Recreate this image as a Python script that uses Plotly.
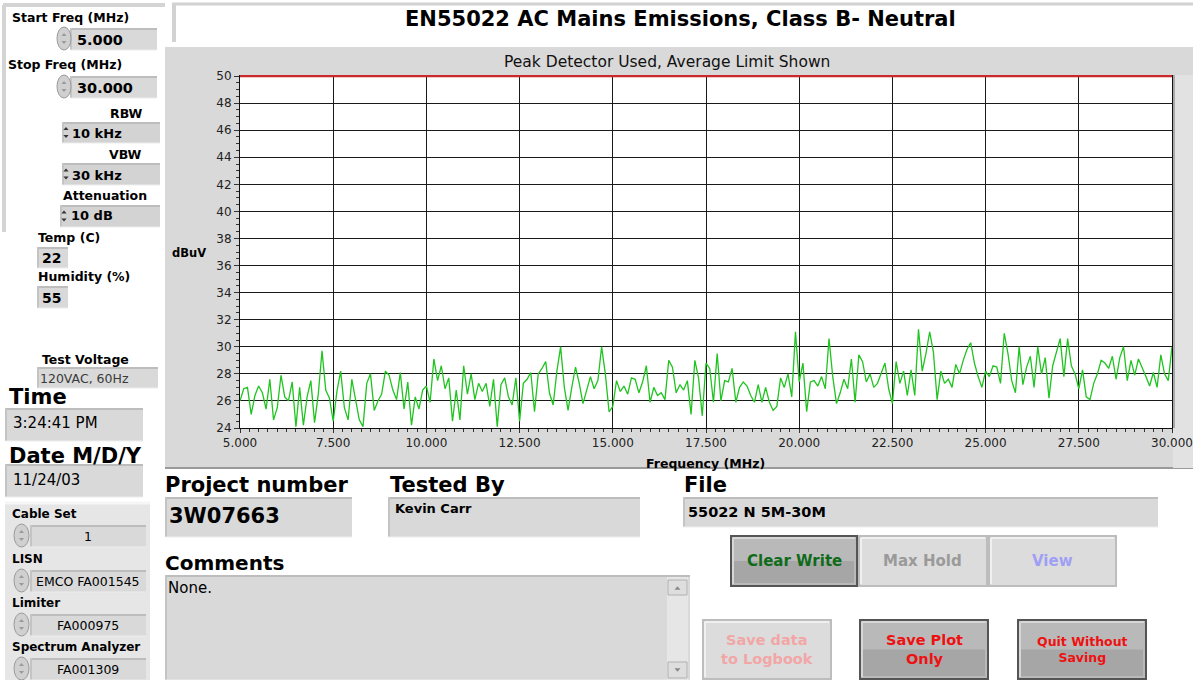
import plotly.graph_objects as go
import numpy as np

# ---------------- data ----------------
start_freq = 5.0
stop_freq = 30.0
limit_db = 50.0
peak_dbuv = [
    26.0, 26.9, 27.0, 25.0, 26.4, 27.1, 26.6, 25.4, 27.6, 24.6,
    25.5, 27.9, 26.3, 26.0, 27.4, 24.1, 27.0, 24.2, 26.3, 27.5,
    24.4, 26.5, 29.7, 26.8, 26.2, 24.5, 26.7, 28.2, 25.5, 24.6,
    27.6, 26.0, 24.6, 24.1, 27.3, 28.0, 25.3, 26.0, 26.5, 28.2,
    27.9, 26.8, 26.1, 28.1, 25.4, 27.4, 24.2, 26.3, 25.4, 26.8,
    27.1, 25.9, 29.1, 27.5, 28.6, 26.9, 27.7, 24.5, 26.8, 24.6,
    28.6, 26.5, 28.0, 26.1, 27.3, 26.7, 27.3, 25.6, 27.6, 24.1,
    27.2, 27.7, 26.3, 25.7, 27.7, 24.5, 27.3, 27.6, 28.1, 25.2,
    28.0, 28.4, 28.9, 26.6, 25.7, 28.2, 30.0, 27.0, 25.3, 27.0,
    28.5, 27.3, 25.8, 26.8, 27.8, 26.9, 27.5, 30.0, 28.0, 25.2,
    25.6, 27.5, 26.7, 27.1, 26.5, 27.7, 27.6, 26.6, 27.4, 28.6,
    25.9, 27.0, 26.4, 26.6, 26.1, 29.0, 28.5, 26.6, 27.2, 26.8,
    27.5, 25.0, 29.0, 27.7, 24.9, 28.8, 28.4, 25.9, 29.5, 26.0,
    27.5, 27.4, 28.4, 25.9, 27.0, 27.4, 27.1, 26.4, 25.9, 27.2,
    25.9, 27.0, 25.9, 25.3, 25.6, 27.7, 27.0, 28.0, 26.3, 31.1,
    27.4, 28.8, 25.2, 27.4, 27.5, 27.1, 27.8, 26.9, 30.6, 27.8,
    25.8, 26.6, 27.6, 26.9, 29.1, 25.9, 29.4, 28.9, 27.4, 28.0,
    27.0, 27.3, 28.1, 28.8, 26.9, 25.8, 28.9, 27.3, 28.2, 26.4,
    28.3, 26.4, 31.3, 28.2, 29.5, 31.1, 29.6, 26.1, 28.2, 27.3,
    27.6, 27.0, 28.7, 28.0, 29.0, 29.8, 30.3, 28.8, 27.8, 27.0,
    28.2, 27.8, 28.6, 28.5, 27.3, 31.0, 29.5, 27.5, 26.6, 30.0,
    27.2, 28.5, 29.3, 27.0, 30.0, 28.0, 29.2, 26.2, 28.6, 29.6,
    30.6, 27.8, 30.6, 28.6, 28.0, 26.9, 28.3, 26.3, 26.1, 27.3,
    28.0, 29.0, 28.8, 28.4, 29.3, 27.6, 29.2, 30.0, 27.5, 29.0,
    27.9, 29.1, 28.5, 27.8, 27.1, 28.1, 27.0, 29.4, 28.0, 27.5, 30.0,
]
freq_mhz = np.linspace(start_freq, stop_freq, len(peak_dbuv))
y_ticks = list(range(24, 51, 2))
x_ticks = [5.0, 7.5, 10.0, 12.5, 15.0, 17.5, 20.0, 22.5, 25.0, 27.5, 30.0]

title_text = "EN55022 AC Mains Emissions, Class B- Neutral"
subtitle_text = "Peak Detector Used, Average Limit Shown"

# ---------------- layout helpers (pixel -> paper) ----------------
W, H = 1193, 680
L, R, T, B = 240, 1172, 75, 428
PW, PH = R - L, B - T
FONT = "DejaVu Sans, Liberation Sans, Arial, sans-serif"


def X(px):
    return (px - L) / PW


def Y(py):
    return (B - py) / PH


shapes = []
annots = []


def rect(x0, y0, x1, y1, fill, line=None, lw=1, layer="below"):
    shapes.append(dict(type="rect", xref="paper", yref="paper",
                       x0=X(x0), x1=X(x1), y0=Y(y1), y1=Y(y0),
                       fillcolor=fill, layer=layer,
                       line=dict(color=line if line else fill, width=lw if line else 0)))


def hline(x0, x1, y, color, lw=1, layer="below"):
    shapes.append(dict(type="line", xref="paper", yref="paper",
                       x0=X(x0), x1=X(x1), y0=Y(y), y1=Y(y), layer=layer,
                       line=dict(color=color, width=lw)))


def vline(x, y0, y1, color, lw=1, layer="below"):
    shapes.append(dict(type="line", xref="paper", yref="paper",
                       x0=X(x), x1=X(x), y0=Y(y0), y1=Y(y1), layer=layer,
                       line=dict(color=color, width=lw)))


def ellipse(x0, y0, x1, y1, fill, line):
    shapes.append(dict(type="circle", xref="paper", yref="paper",
                       x0=X(x0), x1=X(x1), y0=Y(y1), y1=Y(y0), layer="below",
                       fillcolor=fill, line=dict(color=line, width=1)))


def tri(cx, cy, up, size, color):
    h = size
    if up:
        pts = [(cx - h, cy + h * 0.6), (cx + h, cy + h * 0.6), (cx, cy - h * 0.6)]
    else:
        pts = [(cx - h, cy - h * 0.6), (cx + h, cy - h * 0.6), (cx, cy + h * 0.6)]
    path = "M " + " L ".join(f"{X(a)},{Y(b)}" for a, b in pts) + " Z"
    shapes.append(dict(type="path", xref="paper", yref="paper", path=path,
                       fillcolor=color, line=dict(color=color, width=0), layer="below"))


def text(x, y, s, size=12, bold=False, color="#000", anchor="left"):
    annots.append(dict(x=X(x), y=Y(y), xref="paper", yref="paper", showarrow=False,
                       text=f"<b>{s}</b>" if bold else s, xanchor=anchor, yanchor="middle",
                       borderpad=0, borderwidth=0,
                       font=dict(family=FONT, size=size, color=color), align="center"))


def field(x0, y0, x1, y1, fill="#d9d9d9"):
    rect(x0, y0, x1, y1, fill)
    hline(x0, x1, y0 + 1, "#bdbdbd", 2)
    vline(x0 + 1, y0, y1, "#c4c4c4", 2)
    hline(x0, x1, y1, "#ededed", 1)


def spinner(x0, y0, x1, y1):
    ellipse(x0, y0, x1, y1, "#d0d0d0", "#9a9a9a")
    cx = (x0 + x1) / 2
    cy = (y0 + y1) / 2
    tri(cx, cy - 4, True, 2.5, "#9a9a9a")
    tri(cx, cy + 4, False, 2.5, "#9a9a9a")


def updown(x0, y0, x1, y1):
    cx = (x0 + x1) / 2
    cy = (y0 + y1) / 2
    tri(cx, cy - 4, True, 2.6, "#333")
    tri(cx, cy + 4, False, 2.6, "#333")


def button(x0, y0, x1, y1, pressed):
    if pressed:
        rect(x0, y0, x1, y1, "#b9b9b9", "#555", 2)
        rect(x0 + 3, (y0 + y1) / 2, x1 - 3, y1 - 3, "#a6a6a6")
        hline(x0 + 2, x1 - 2, y0 + 2, "#d6d6d6", 2)
        vline(x0 + 2, y0 + 2, y1 - 2, "#d6d6d6", 2)
    else:
        rect(x0, y0, x1, y1, "#dcdcdc", "#bdbdbd", 2)
        hline(x0 + 2, x1 - 2, y0 + 2, "#f0f0f0", 2)
        vline(x0 + 2, y0 + 2, y1 - 2, "#f0f0f0", 2)


# ---------------- graph panel and title box ----------------
rect(165, 47, 1200, 468, "#d9d9d9")
hline(165, 1200, 468, "#9a9a9a", 2)
rect(L, T, R, B, "#ffffff")
rect(R + 1, T, 1200, 468, "#e2e2e2")
vline(R + 2, T, B, "#a8a8a8", 2)

rect(172, 3, 1200, 42, "#ffffff")
hline(172, 1200, 4, "#d2d2d2", 3)
vline(174, 3, 42, "#d2d2d2", 4)
text(680, 19, title_text, 21, True, "#000", "center")
text(667, 62, subtitle_text, 15.5, False, "#111", "center")
text(172, 253, "dBuV", 11.5, True)
text(705, 463, "Frequency (MHz)", 12.5, True, "#000", "center")

# ---------------- left control column ----------------
hline(3, 165, 5, "#d4d4d4", 4)
vline(4, 5, 232, "#d4d4d4", 4)

LAB = 12.5
text(12, 18, "Start Freq (MHz)", LAB, True)
field(70, 28, 157, 50, "#d9d9d9")
spinner(57, 27, 71, 50)
text(77, 40, "5.000", 14.5, True)
text(8, 65, "Stop Freq (MHz)", LAB, True)
field(70, 76, 157, 98, "#d9d9d9")
spinner(57, 75, 71, 98)
text(77, 88, "30.000", 14.5, True)

text(142, 113, "RBW", LAB, True, "#000", "right")
field(62, 122, 160, 143, "#d3d3d3")
updown(62, 122, 70, 143)
text(72, 133, "10 kHz", 13, True)
text(142, 154, "VBW", LAB, True, "#000", "right")
field(62, 163, 160, 185, "#d3d3d3")
updown(62, 163, 70, 185)
text(72, 175, "30 kHz", 13, True)
text(63, 195, "Attenuation", LAB, True)
field(60, 205, 160, 227, "#d3d3d3")
updown(60, 205, 68, 227)
text(71, 216, "10 dB", 13, True)

text(38, 237, "Temp (C)", LAB, True)
field(37, 247, 68, 268)
text(42, 258, "22", 14, True)
text(38, 276, "Humidity (%)", LAB, True)
field(37, 286, 68, 308)
text(42, 298, "55", 14, True)

text(42, 359, "Test Voltage", LAB, True)
field(37, 367, 158, 388)
text(40, 378, "120VAC, 60Hz", 12.5, False, "#3a3a3a")

text(9, 397, "Time", 21, True)
field(5, 408, 143, 441)
text(13, 423, "3:24:41 PM", 15, False, "#000")
text(9, 456, "Date M/D/Y", 21, True)
field(5, 464, 143, 497)
text(13, 480, "11/24/03", 15, False, "#000")

rect(5, 502, 150, 680, "#e6e6e6")
hline(5, 150, 503, "#f6f6f6", 3)
lower_rows = [("Cable Set", "1", 514), ("LISN", "EMCO FA001545", 559),
              ("Limiter", "FA000975", 603), ("Spectrum Analyzer", "FA001309", 647)]
for lab, val, ly in lower_rows:
    text(12, ly, lab, 12, True)
    field(30, ly + 11, 146, ly + 33)
    spinner(14, ly + 10, 29, ly + 33)
    text(88, ly + 22, val, 12.5, False, "#000", "center")

# ---------------- bottom section ----------------
text(165, 485, "Project number", 21, True)
field(165, 497, 352, 537)
text(169, 516, "3W07663", 21, True)
text(390, 485, "Tested By", 21, True)
field(388, 497, 640, 537)
text(395, 508, "Kevin Carr", 13, True)
text(684, 485, "File", 21, True)
field(683, 497, 1158, 527)
text(688, 512, "55022 N 5M-30M", 14.5, True)

text(165, 563, "Comments", 20, True)
field(165, 575, 690, 680)
text(168, 588, "None.", 15, False, "#000")
rect(667, 577, 688, 680, "#e6e6e6")
rect(668, 580, 687, 595, "#dedede", "#b0b0b0")
tri(677.5, 588, True, 3, "#888")
rect(668, 662, 687, 678, "#dedede", "#b0b0b0")
tri(677.5, 670, False, 3, "#888")

button(731, 536, 857, 586, True)
text(794, 561, "Clear Write", 15, True, "#0f6b1a", "center")
button(859, 536, 987, 586, False)
text(922, 561, "Max Hold", 15, True, "#9a9a9a", "center")
button(989, 536, 1116, 586, False)
text(1052, 561, "View", 15, True, "#9f9ff5", "center")

button(703, 620, 831, 679, False)
text(767, 649, "Save data<br>to Logbook", 14.5, True, "#f2a6a6", "center")
button(860, 620, 988, 679, True)
text(924, 649, "Save Plot<br>Only", 14.5, True, "#ee1111", "center")
button(1018, 620, 1146, 679, True)
text(1082, 649, "Quit Without<br>Saving", 12.5, True, "#ee1111", "center")

# ---------------- figure ----------------
fig = go.Figure()
fig.add_trace(go.Scatter(x=freq_mhz, y=peak_dbuv, mode="lines",
                         line=dict(color="#1fc41f", width=1.3), showlegend=False,
                         hoverinfo="skip"))
fig.add_trace(go.Scatter(x=[start_freq, stop_freq], y=[limit_db, limit_db], mode="lines",
                         line=dict(color="#cc2a2a", width=2.2), showlegend=False,
                         hoverinfo="skip"))

fig.update_layout(
    width=W, height=H, autosize=False,
    margin=dict(l=L, r=W - R, t=T, b=H - B, pad=0, autoexpand=False),
    paper_bgcolor="#ffffff", plot_bgcolor="#ffffff",
    shapes=shapes, annotations=annots,
    font=dict(family=FONT, size=12, color="#222"),
    xaxis=dict(range=[start_freq, stop_freq], tickvals=x_ticks, tickformat=".3f",
               ticklabeloverflow="allow", automargin=False,
               showgrid=True, gridcolor="#1a1a1a", gridwidth=1,
               showline=True, linecolor="#111", linewidth=1, mirror=False,
               ticks="outside", ticklen=4, tickcolor="#333",
               minor=dict(dtick=0.25, tick0=5, ticks="outside", ticklen=3,
                          tickcolor="#333", showgrid=False),
               tickfont=dict(size=12, color="#222"), zeroline=False, fixedrange=True),
    yaxis=dict(range=[24, 50.08], tickvals=y_ticks, automargin=False,
               showgrid=True, gridcolor="#1a1a1a", gridwidth=1,
               showline=True, linecolor="#111", linewidth=1, mirror=True,
               ticks="outside", ticklen=5, tickcolor="#333",
               minor=dict(dtick=0.5, tick0=24, ticks="outside", ticklen=3,
                          tickcolor="#333", showgrid=False),
               tickfont=dict(size=12, color="#222"), zeroline=False, fixedrange=True),
)

fig.write_html(
    "out.html",
    config={"displayModeBar": False},
    post_script="document.body.style.margin='0';document.body.style.overflow='hidden';",
)
